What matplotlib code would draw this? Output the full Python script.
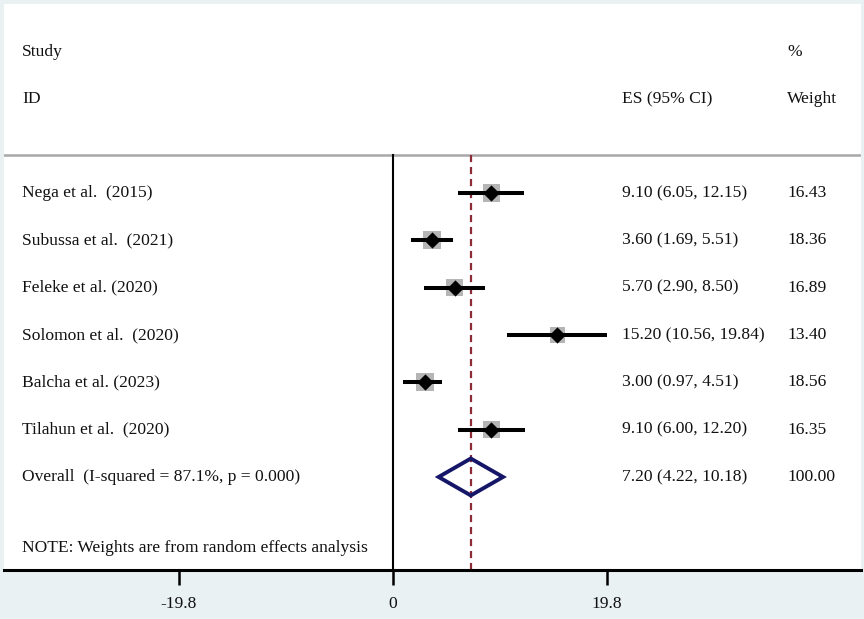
import matplotlib
matplotlib.use("Agg")
import matplotlib.pyplot as plt
from matplotlib.patches import Rectangle, Polygon
import numpy as np

studies = ["Nega et al.  (2015)", "Subussa et al.  (2021)", "Feleke et al. (2020)",
           "Solomon et al.  (2020)", "Balcha et al. (2023)", "Tilahun et al.  (2020)"]
es = [9.10, 3.60, 5.70, 15.20, 3.00, 9.10]
lo = [6.05, 1.69, 2.90, 10.56, 0.97, 6.00]
hi = [12.15, 5.51, 8.50, 19.84, 4.51, 12.20]
weights = [16.43, 18.36, 16.89, 13.40, 18.56, 16.35]
es_labels = ["9.10 (6.05, 12.15)", "3.60 (1.69, 5.51)", "5.70 (2.90, 8.50)",
             "15.20 (10.56, 19.84)", "3.00 (0.97, 4.51)", "9.10 (6.00, 12.20)"]
weight_labels = ["16.43", "18.36", "16.89", "13.40", "18.56", "16.35"]
overall_label = "Overall  (I-squared = 87.1%, p = 0.000)"
overall_es, overall_lo, overall_hi = 7.20, 4.22, 10.18
overall_es_label = "7.20 (4.22, 10.18)"
overall_weight_label = "100.00"
note = "NOTE: Weights are from random effects analysis"
xticks = [-19.8, 0, 19.8]
xtick_labels = ["-19.8", "0", "19.8"]

W, H = 864, 619
BG = "#e9f1f3"
FONT = "Liberation Serif"
FS = 12.6

fig = plt.figure(figsize=(W / 100, H / 100), dpi=100, facecolor=BG)
x0px, scale = 393.0, 428.0 / 39.6
row0, rowh = 193.0, 47.33
def px2x(p):
    return (p - x0px) / scale
def py2y(p):
    return (p - row0) / rowh

axl, axr = 4, 861
ax = fig.add_axes([axl / W, 0, (axr - axl) / W, 1])
ax.set_facecolor(BG)
ax.set_xlim(px2x(axl), px2x(axr))
ax.set_ylim(py2y(H), py2y(0))

xl = ax.get_xlim()
y_axis = py2y(570)
y_top_plot = py2y(155)
ax.add_patch(Rectangle((xl[0], py2y(4)), xl[1] - xl[0], y_axis - py2y(4),
                       facecolor="white", edgecolor="none", zorder=0))

for s in ["top", "left", "right"]:
    ax.spines[s].set_visible(False)
ax.spines["bottom"].set_position(("data", y_axis))
ax.spines["bottom"].set_linewidth(2.2)
ax.set_yticks([])
ax.set_xticks(xticks)
ax.set_xticklabels(xtick_labels, fontfamily=FONT, fontsize=FS, color="#111111")
ax.tick_params(axis="x", direction="out", length=11, width=1.8, pad=8)

ax.plot(xl, [y_top_plot, y_top_plot], color="#a8a8a8", lw=1.8, zorder=1)
ax.plot([0, 0], [y_top_plot, y_axis], color="black", lw=1.5, zorder=2)
ax.plot([overall_es, overall_es], [y_top_plot, y_axis], color="#8e2b36", lw=1.6,
        ls=(0, (3.2, 2.2)), zorder=2)

rows = np.arange(len(studies))
sides_pt = 4.2 * np.sqrt(weights) * 0.72
ax.scatter(es, rows, marker="s", s=sides_pt ** 2, color="#b5b5b5", zorder=3, linewidths=0)
ax.hlines(rows, lo, hi, color="black", lw=2.9, zorder=4)
ax.scatter(es, rows, marker="D", s=(11.5 * 0.72) ** 2, color="black", zorder=5, linewidths=0)

yo = len(studies)
dh = 0.39
ax.add_patch(Polygon([(overall_lo, yo), (overall_es, yo - dh), (overall_hi, yo), (overall_es, yo + dh)],
                     closed=True, facecolor="none", edgecolor="#161668", lw=2.8, zorder=5,
                     joinstyle="miter"))

tx_name = px2x(22)
tx_es = px2x(622)
tx_w = px2x(787)
kw = dict(fontfamily=FONT, fontsize=FS, va="center", ha="left", color="#111111")
ax.text(tx_name, py2y(52), "Study", **kw)
ax.text(tx_name, py2y(99), "ID", **kw)
ax.text(tx_es, py2y(99), "ES (95% CI)", **kw)
ax.text(tx_w, py2y(52), "%", **kw)
ax.text(tx_w, py2y(99), "Weight", **kw)
for i in rows:
    ax.text(tx_name, i, studies[i], **kw)
    ax.text(tx_es, i, es_labels[i], **kw)
    ax.text(tx_w, i, weight_labels[i], **kw)
ax.text(tx_name, yo, overall_label, **kw)
ax.text(tx_es, yo, overall_es_label, **kw)
ax.text(tx_w, yo, overall_weight_label, **kw)
ax.text(tx_name, py2y(548), note, **kw)

fig.savefig("out.png", dpi=100, facecolor=BG)
